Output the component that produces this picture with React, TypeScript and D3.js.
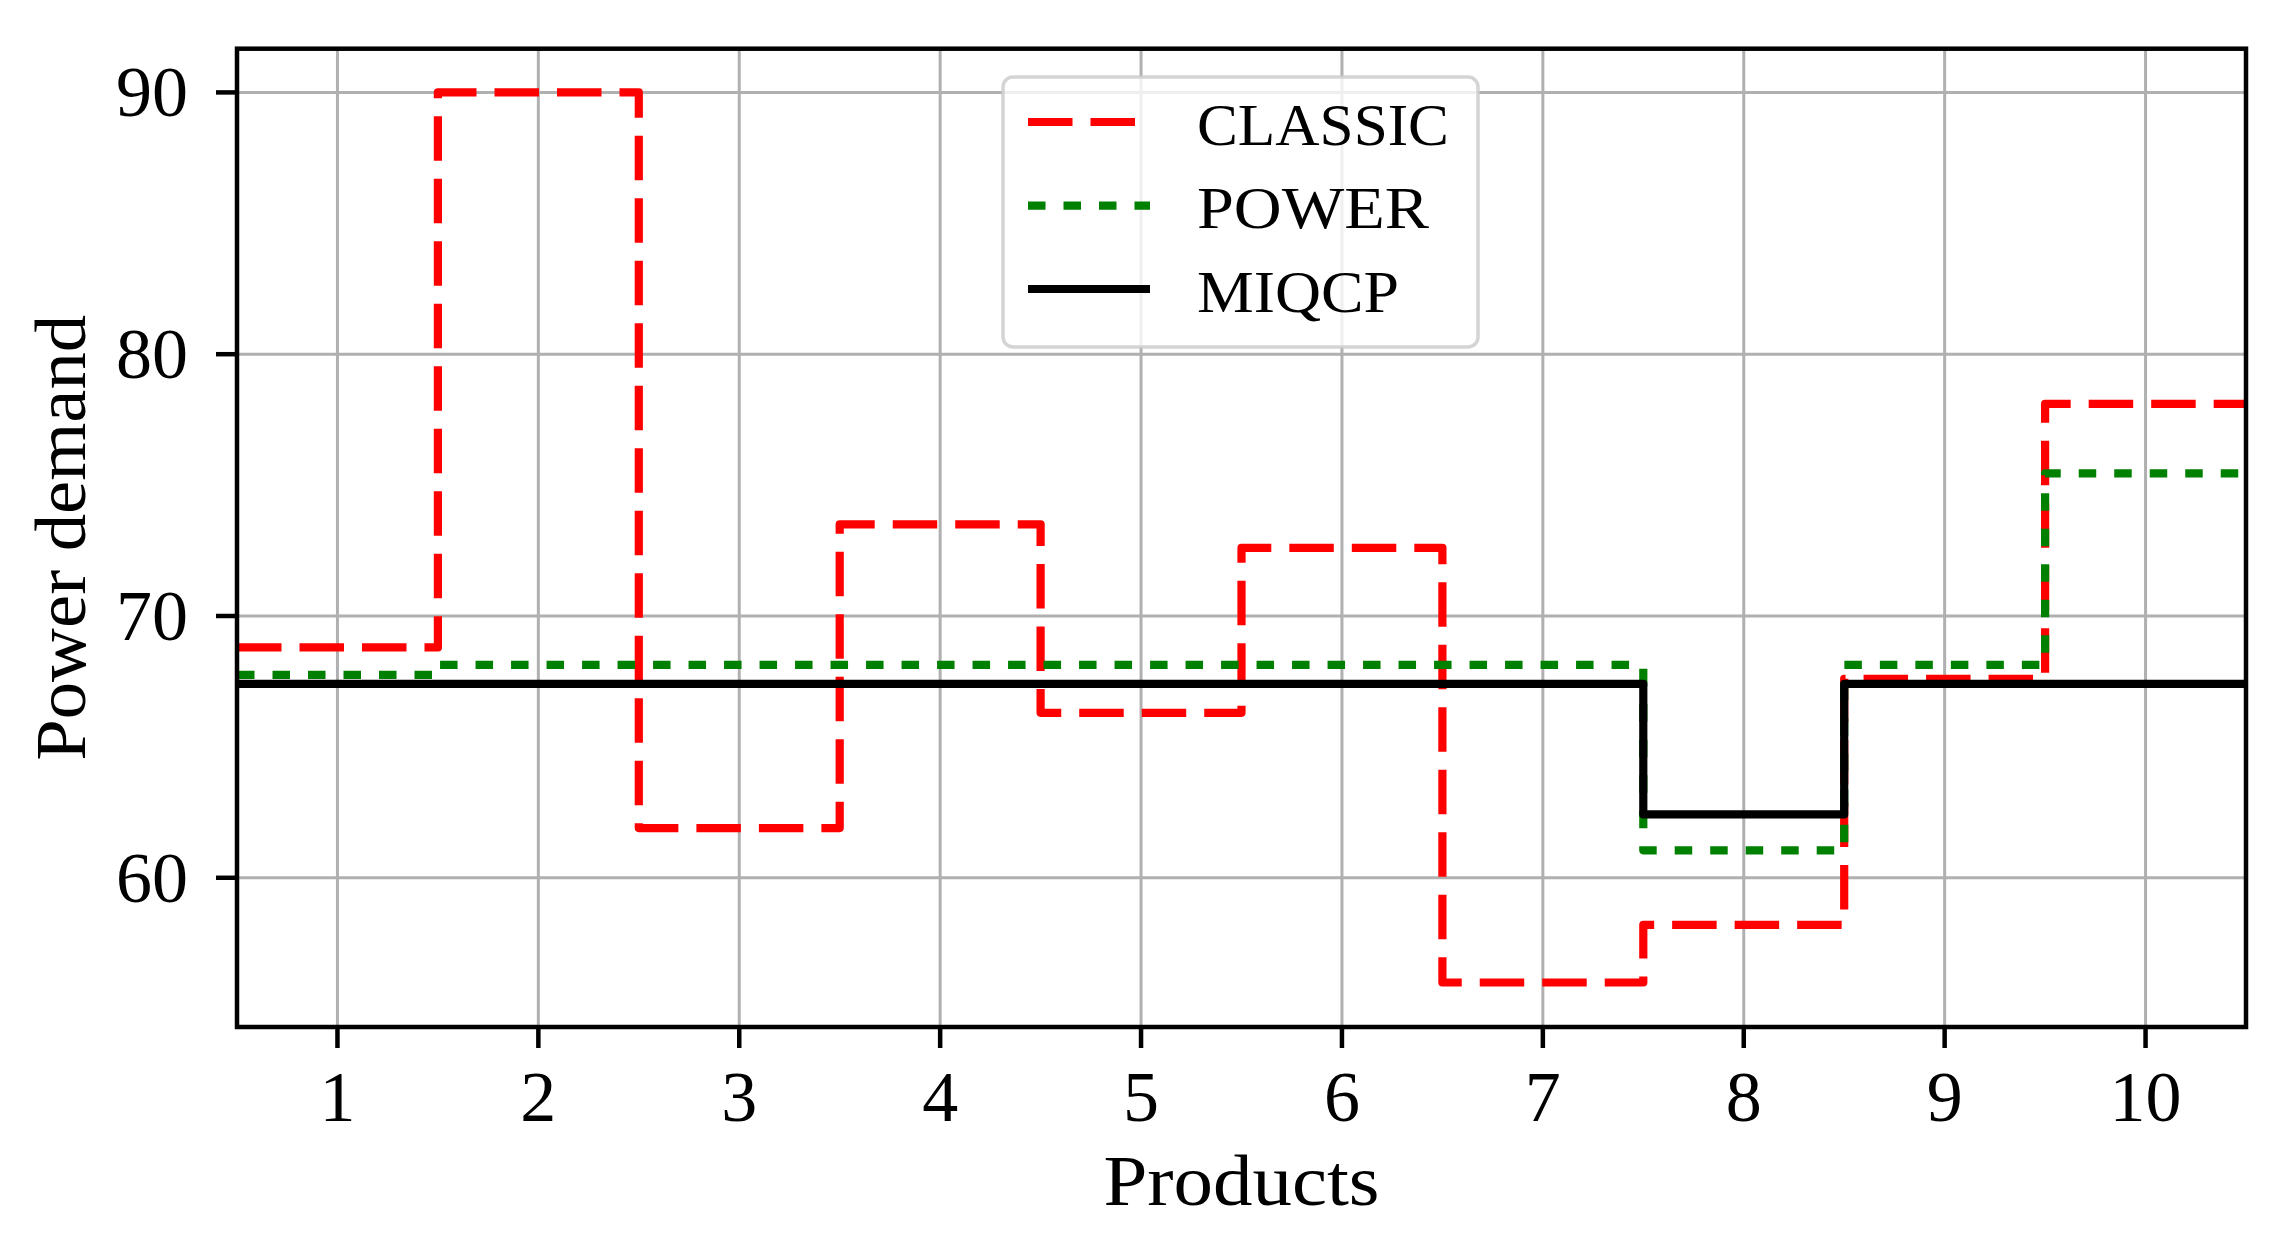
import React, { useEffect } from "react";
import * as d3 from "d3";

const categories = [1, 2, 3, 4, 5, 6, 7, 8, 9, 10];
const classicValues = [68.8, 90.0, 61.9, 73.5, 66.3, 72.6, 56.0, 58.2, 67.6, 78.1];
const powerValues = [67.75, 68.13, 68.13, 68.13, 68.13, 68.13, 68.13, 61.05, 68.13, 75.45];
const miqcpValues = [67.41, 67.41, 67.41, 67.41, 67.41, 67.41, 67.41, 62.42, 67.41, 67.41];
const yTickValues = [60, 70, 80, 90];
const seriesNames = ["CLASSIC", "POWER", "MIQCP"];

const W = 2277;
const H = 1237;
const L = 237, R = 2246, T = 48.7, B = 1027;
const FONT = "'Liberation Serif', 'DejaVu Serif', serif";

const x = d3.scaleLinear().domain([0.5, 10.5]).range([L, R]);
const y = d3.scaleLinear().domain([54.3, 91.67]).range([B, T]);

function stepPath(vals: number[]): string {
  const pts: [number, number][] = vals.map((v, i) => [categories[i] - 0.5, v]);
  pts.push([categories[categories.length - 1] + 0.5, vals[vals.length - 1]]);
  const line = d3
    .line<[number, number]>()
    .x((d) => x(d[0]))
    .y((d) => y(d[1]))
    .curve(d3.curveStepAfter);
  return line(pts) || "";
}

const styles = [
  { color: "#ff0000", dash: "44.5 18", values: classicValues },
  { color: "#008000", dash: "17.5 18", values: powerValues },
  { color: "#000000", dash: "none", values: miqcpValues },
];

export default function App() {
  useEffect(() => {
    document.body.style.margin = "0";
  }, []);
  const lw = 8.2;
  const spine = 4.5;
  const legX = 1003, legY = 77, legW = 475, legH = 270;
  const legRows = [122, 205.7, 289];
  const legTextBase = [145, 228, 312];
  const legTextLen = [252, 232, 202];
  return (
    <svg width={W} height={H} style={{ display: "block", background: "#fff" }}>
      <defs>
        <clipPath id="plotclip">
          <rect x={L} y={T} width={R - L} height={B - T} />
        </clipPath>
      </defs>
      <rect x={0} y={0} width={W} height={H} fill="#fff" />
      {/* grid */}
      <g stroke="#b0b0b0" strokeWidth={3}>
        {categories.map((c) => (
          <line key={"gx" + c} x1={x(c)} x2={x(c)} y1={T} y2={B} />
        ))}
        {yTickValues.map((v) => (
          <line key={"gy" + v} x1={L} x2={R} y1={y(v)} y2={y(v)} />
        ))}
      </g>
      {/* series */}
      <g clipPath="url(#plotclip)">
        {styles.map((s, i) => (
          <path
            key={i}
            d={stepPath(s.values)}
            fill="none"
            stroke={s.color}
            strokeWidth={lw}
            strokeDasharray={s.dash}
            strokeLinejoin="round"
            strokeLinecap="butt"
          />
        ))}
      </g>
      {/* legend */}
      <g>
        <rect
          x={legX}
          y={legY}
          width={legW}
          height={legH}
          rx={10}
          ry={10}
          fill="rgba(255,255,255,0.8)"
          stroke="rgba(204,204,204,0.85)"
          strokeWidth={3.5}
        />
        {styles.map((s, i) => (
          <g key={"leg" + i}>
            <line
              x1={1028}
              x2={1150}
              y1={legRows[i]}
              y2={legRows[i]}
              stroke={s.color}
              strokeWidth={lw}
              strokeDasharray={s.dash}
            />
            <text
              x={1197}
              y={legTextBase[i]}
              fontFamily={FONT}
              fontSize={60}
              textLength={legTextLen[i]}
              lengthAdjust="spacingAndGlyphs"
              fill="#000"
            >
              {seriesNames[i]}
            </text>
          </g>
        ))}
      </g>
      {/* spines */}
      <rect x={L} y={T} width={R - L} height={B - T} fill="none" stroke="#000" strokeWidth={spine} />
      {/* x ticks */}
      <g>
        {categories.map((c) => (
          <g key={"xt" + c}>
            <line x1={x(c)} x2={x(c)} y1={B} y2={B + 21} stroke="#000" strokeWidth={spine} />
            <text
              x={x(c)}
              y={1121}
              textAnchor="middle"
              fontFamily={FONT}
              fontSize={72}
              fill="#000"
            >
              {String(c)}
            </text>
          </g>
        ))}
      </g>
      {/* y ticks */}
      <g>
        {yTickValues.map((v) => (
          <g key={"yt" + v}>
            <line x1={L - 21} x2={L} y1={y(v)} y2={y(v)} stroke="#000" strokeWidth={spine} />
            <text
              x={188}
              y={y(v) + 24}
              textAnchor="end"
              fontFamily={FONT}
              fontSize={72}
              fill="#000"
            >
              {String(v)}
            </text>
          </g>
        ))}
      </g>
      {/* axis labels */}
      <text
        x={(L + R) / 2}
        y={1205}
        textAnchor="middle"
        fontFamily={FONT}
        fontSize={72}
        textLength={276}
        lengthAdjust="spacingAndGlyphs"
        fill="#000"
      >
        Products
      </text>
      <text
        transform={`translate(85, ${(T + B) / 2}) rotate(-90)`}
        textAnchor="middle"
        fontFamily={FONT}
        fontSize={72}
        textLength={446}
        lengthAdjust="spacingAndGlyphs"
        fill="#000"
      >
        Power demand
      </text>
    </svg>
  );
}
